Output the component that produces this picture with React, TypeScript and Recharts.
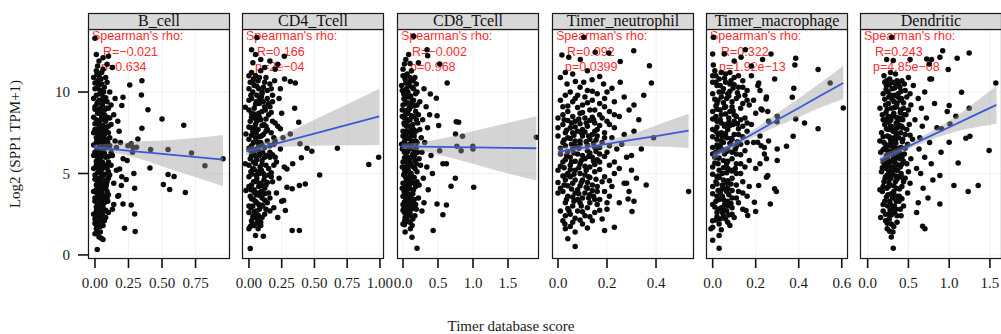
import { ComposedChart, Scatter, Line, Area, XAxis, YAxis, CartesianGrid } from 'recharts';

// panel titles and the Spearman labels printed in each panel
const panelNames = ['B_cell', 'CD4_Tcell', 'CD8_Tcell', 'Timer_neutrophil', 'Timer_macrophage', 'Dendritic'];
const rhoLabels = ['R=\u22120.021', 'R=0.166', 'R=\u22120.002', 'R=0.092', 'R=0.322', 'R=0.243'];
const pLabels = ['p=0.634', 'p=2e\u221204', 'p=0.968', 'p=0.0399', 'p=1.92e\u221213', 'p=4.85e\u221208'];

// x axis ticks per panel
const xTicks = [
    [0, 0.25, 0.5, 0.75],
    [0, 0.25, 0.5, 0.75, 1.0],
    [0, 0.5, 1.0, 1.5],
    [0, 0.2, 0.4],
    [0, 0.2, 0.4, 0.6],
    [0, 0.5, 1.0, 1.5],
];
const xDecimals = [2, 2, 1, 1, 1, 1];
const xDomains: [number, number][] = [
    [-0.052, 1.007],
    [-0.053, 1.031],
    [-0.086, 1.943],
    [-0.0245, 0.555],
    [-0.031, 0.629],
    [-0.094, 1.648],
];
const yTicks = [0, 5, 10];
const yDomain: [number, number] = [-0.25, 13.87];

// scatter points [score, log2 expression]
const bCellPts = [
    [0.01,11.3],[0.03,11.0],[0.06,11.4],[0.02,10.7],[0.05,10.5],[0.08,10.9],[0.0,10.2],[0.04,10.1],[0.07,10.3],[0.11,10.0],
    [0.01,9.8],[0.03,9.5],[0.06,9.7],[0.09,9.4],[0.0,9.1],[0.04,9.0],[0.02,8.7],[0.07,8.9],[0.12,9.2],[0.05,8.5],
    [0.01,8.3],[0.03,8.0],[0.08,8.2],[0.1,7.9],[0.0,7.7],[0.05,7.6],[0.02,7.3],[0.07,7.4],[0.04,7.1],[0.11,7.2],
    [0.01,6.9],[0.06,6.8],[0.03,6.5],[0.09,6.6],[0.0,6.3],[0.05,6.2],[0.08,6.0],[0.02,5.9],[0.12,6.3],[0.04,5.7],
    [0.01,5.5],[0.07,5.4],[0.03,5.2],[0.1,5.1],[0.0,4.9],[0.05,4.8],[0.02,4.5],[0.08,4.6],[0.04,4.3],[0.06,4.1],
    [0.01,4.0],[0.03,3.7],[0.09,3.9],[0.0,3.5],[0.05,3.4],[0.02,3.1],[0.07,3.2],[0.04,2.9],[0.01,2.7],[0.06,2.6],
    [0.03,2.4],[0.0,2.2],[0.05,2.1],[0.02,1.9],[0.08,2.3],[0.01,1.6],[0.04,1.4],[0.03,1.1],[0.06,1.8],[0.0,1.3],
    [0.015,11.1],[0.045,10.8],[0.025,10.4],[0.065,10.0],[0.035,9.9],[0.015,9.3],[0.055,9.2],[0.085,9.0],[0.025,8.9],[0.045,8.7],
    [0.065,8.4],[0.015,8.1],[0.035,7.9],[0.055,7.8],[0.025,7.5],[0.085,7.6],[0.015,7.0],[0.045,7.3],[0.065,7.0],[0.035,6.7],
    [0.095,6.9],[0.015,6.5],[0.045,6.4],[0.025,6.1],[0.065,6.4],[0.035,5.8],[0.015,5.6],[0.055,5.7],[0.085,5.5],[0.025,5.3],
    [0.045,5.0],[0.015,4.7],[0.065,4.9],[0.035,4.6],[0.025,4.2],[0.085,4.3],[0.045,4.0],[0.015,3.8],[0.055,3.7],[0.035,3.4],
    [0.065,3.5],[0.025,3.0],[0.015,2.6],[0.045,2.8],[0.035,2.3],[0.095,3.3],[0.055,2.5],[0.025,2.0],
    [-0.01,10.9],[0.0,10.55],[0.02,10.25],[0.05,9.95],[0.08,9.65],[-0.01,9.6],[0.02,9.35],[0.06,9.45],[0.0,8.95],[0.03,8.75],
    [0.07,8.6],[-0.01,8.45],[0.04,8.25],[0.09,8.45],[0.0,8.05],[0.06,7.95],[0.02,7.75],[0.08,7.8],[-0.01,7.5],[0.04,7.45],
    [0.1,7.5],[0.01,7.2],[0.06,7.15],[0.03,6.95],[0.08,6.75],[-0.01,6.75],[0.05,6.6],[0.02,6.35],[0.07,6.25],[-0.01,6.1],
    [0.04,6.0],[0.1,6.05],[0.01,5.75],[0.06,5.55],[0.03,5.45],[0.09,5.3],[-0.01,5.3],[0.05,5.25],[0.02,5.05],[0.07,4.95],
    [0.0,4.65],[0.04,4.55],[0.1,4.7],[0.06,4.35],[0.01,4.3],[0.03,4.05],[0.08,4.1],[-0.01,3.9],[0.05,3.85],[0.02,3.55],
    [0.07,3.6],[0.0,3.3],[0.04,3.15],[0.09,3.5],[0.06,2.95],[0.01,2.95],[0.03,2.7],[0.08,2.75],[-0.01,2.5],[0.05,2.6],
    [0.02,2.35],[0.07,2.1],[0.0,1.95],[0.04,1.75],[0.01,1.85],[0.06,2.3],
    [0.09,10.6],[0.1,9.0],[0.11,8.4],[0.09,7.1],[0.11,6.7],[0.1,5.7],[0.11,4.9],[0.09,4.5],[0.1,3.7],[0.12,8.0],
    [0.12,5.5],[0.1,2.6],
    [0.01,12.3],[0.03,11.9],[0.06,12.1],[0.02,11.6],[0.09,11.7],[0.05,11.2],[0.13,11.5],[0.0,13.3],[0.1,12.2],
    [0.017,0.33],[0.047,1.03],[0.022,1.4],[0.06,0.95],
    [0.14,8.6],[0.15,7.0],[0.13,6.1],[0.16,5.2],[0.14,4.4],[0.17,3.6],[0.13,2.8],[0.15,9.6],[0.18,7.6],[0.16,6.6],
    [0.2,4.8],[0.14,3.1],[0.19,6.9],[0.17,8.2],[0.21,5.9],
    [0.259,10.43],[0.35,10.7],[0.346,9.82],[0.395,8.92],[0.5,8.35],[0.662,7.96],[0.35,7.78],[0.415,6.47],[0.545,6.47],[0.72,6.26],
    [0.955,5.9],[0.82,5.47],[0.41,5.34],[0.545,4.93],[0.59,4.81],[0.51,4.32],[0.557,4.01],[0.674,3.83],[0.29,5.0],[0.296,4.1],
    [0.27,3.07],[0.296,2.52],[0.22,1.64],[0.3,1.44],[0.233,4.63],[0.209,3.13],[0.2,9.17],[0.209,9.68],[0.32,7.12],[0.283,6.6],
    [0.246,6.7],[0.24,5.79],[0.184,5.28],[0.197,4.26],[0.177,3.65],[0.27,6.82],[0.31,6.61],[0.28,6.3],
];

const cd4Pts = [
    [0.06,13.35],[0.02,12.6],[0.05,12.3],[0.09,12.0],[0.27,12.2],[0.22,11.7],[0.16,11.9],[0.2,11.4],[0.03,11.8],[0.12,11.5],
    [0.02,11.2],[0.05,11.0],[0.09,11.3],[0.13,10.9],[0.01,10.6],[0.04,10.4],[0.07,10.7],[0.11,10.3],[0.16,10.5],[0.03,10.0],
    [0.06,9.8],[0.1,10.0],[0.14,9.6],[0.0,9.5],[0.08,9.3],[0.12,9.1],[0.04,9.0],[0.18,9.4],[0.02,8.7],[0.06,8.5],
    [0.1,8.8],[0.15,8.6],[0.01,8.2],[0.05,8.0],[0.09,8.3],[0.13,7.9],[0.2,8.1],[0.03,7.6],[0.07,7.7],[0.11,7.4],
    [0.17,7.5],[0.0,7.1],[0.05,7.2],[0.09,6.9],[0.14,7.0],[0.02,6.7],[0.06,6.5],[0.12,6.6],[0.19,6.8],[0.04,6.2],
    [0.08,6.1],[0.16,6.3],[0.01,5.9],[0.1,5.8],[0.05,5.6],[0.13,5.5],[0.03,5.3],[0.07,5.1],[0.21,5.7],[0.11,5.0],
    [0.0,4.8],[0.06,4.7],[0.15,4.9],[0.09,4.4],[0.02,4.3],[0.04,4.0],[0.12,4.1],[0.18,4.5],[0.07,3.8],[0.01,3.6],
    [0.1,3.5],[0.05,3.3],[0.14,3.2],[0.03,3.0],[0.08,2.8],[0.0,2.6],[0.12,2.5],[0.05,2.3],[0.02,2.1],[0.09,2.0],
    [0.04,1.8],[0.16,2.7],[0.07,1.6],
    [0.035,10.8],[0.075,10.2],[0.015,9.8],[0.055,9.4],[0.095,9.7],[0.125,8.9],[0.035,8.4],[0.075,8.7],[0.115,8.0],[0.015,7.8],
    [0.055,7.5],[0.095,7.3],[0.035,6.9],[0.075,6.7],[0.105,6.3],[0.015,6.4],[0.055,6.0],[0.135,6.1],[0.035,5.7],[0.085,5.4],
    [0.015,5.1],[0.055,4.9],[0.095,5.2],[0.035,4.5],[0.075,4.2],[0.115,4.6],[0.015,4.0],[0.055,3.7],[0.095,3.9],[0.035,3.4],
    [0.075,3.1],[0.015,2.9],[0.055,2.7],[0.105,3.0],[0.035,2.4],[0.025,1.9],[0.065,2.2],
    [0.0,11.0],[0.03,10.6],[0.08,10.9],[0.12,10.6],[0.0,10.2],[0.06,10.35],[0.1,9.9],[0.14,10.1],[0.02,9.6],[0.05,9.25],
    [0.08,9.55],[0.11,9.4],[0.16,9.1],[0.0,8.9],[0.04,8.65],[0.08,8.45],[0.13,8.35],[0.17,8.75],[0.02,8.45],[0.06,8.2],
    [0.1,7.95],[0.0,7.85],[0.04,7.8],[0.08,7.25],[0.13,7.6],[0.19,7.2],[0.02,7.35],[0.06,6.95],[0.1,6.75],[0.16,6.7],
    [0.0,6.55],[0.04,6.45],[0.08,6.35],[0.12,6.0],[0.18,6.15],[0.02,6.1],[0.06,5.85],[0.1,5.55],[0.15,5.3],[0.0,5.5],
    [0.04,5.25],[0.08,5.0],[0.12,4.85],[0.17,5.05],[0.02,4.95],[0.06,4.5],[0.1,4.25],[0.14,4.45],[0.0,4.2],[0.04,3.85],
    [0.08,3.65],[0.12,3.75],[0.16,3.5],[0.02,3.45],[0.06,3.2],[0.1,3.05],[0.13,2.8],[0.0,3.0],[0.04,2.65],[0.07,2.45],
    [0.1,2.3],[0.03,2.35],[0.06,1.95],[0.01,1.75],[0.09,1.8],
    [0.17,10.2],[0.15,9.3],[0.18,8.2],[0.14,7.7],[0.16,6.0],[0.17,4.8],[0.13,4.3],[0.15,3.8],[0.12,3.35],[0.19,5.5],
    [0.18,9.8],[0.2,7.0],
    [0.01,0.4],[0.05,1.2],[0.11,1.15],[0.0,1.6],
    [0.23,9.6],[0.25,8.7],[0.22,7.9],[0.26,7.2],[0.24,6.5],[0.2,6.0],[0.27,5.4],[0.23,4.7],[0.21,3.8],[0.25,3.3],
    [0.19,2.9],[0.22,2.3],[0.24,10.2],
    [0.99,6.0],[0.915,5.55],[0.675,6.55],[0.48,6.37],[0.443,6.55],[0.4,5.96],[0.54,4.91],[0.43,4.36],[0.385,4.26],[0.33,1.5],
    [0.385,1.5],[0.354,10.56],[0.316,10.64],[0.349,9.0],[0.38,8.14],[0.334,5.59],[0.29,5.28],[0.29,4.16],[0.33,4.06],[0.278,2.72],
    [0.265,3.34],[0.272,10.8],[0.196,10.7],[0.316,7.43],[0.39,6.82],[0.24,7.74],[-0.028,9.06],[-0.023,7.43],[-0.028,5.59],[-0.023,3.95],
];

const cd8Pts = [
    [0.0,11.4],[0.06,11.1],[0.12,11.3],[0.03,10.8],[0.09,10.6],[0.17,10.9],[-0.02,10.4],[0.05,10.2],[0.13,10.3],[0.2,10.0],
    [0.01,9.9],[0.08,9.7],[0.15,9.5],[0.04,9.3],[0.11,9.1],[0.24,9.4],[-0.01,8.9],[0.07,8.7],[0.18,8.8],[0.02,8.4],
    [0.1,8.3],[0.14,8.0],[0.05,7.9],[0.21,8.1],[0.0,7.6],[0.08,7.5],[0.16,7.3],[0.03,7.1],[0.12,7.0],[0.26,7.2],
    [-0.02,6.8],[0.06,6.7],[0.1,6.5],[0.19,6.6],[0.02,6.3],[0.14,6.2],[0.07,6.0],[0.23,5.9],[0.0,5.7],[0.11,5.6],
    [0.04,5.4],[0.17,5.3],[0.08,5.1],[0.01,4.9],[0.13,4.8],[0.05,4.6],[0.2,4.5],[0.09,4.3],[-0.01,4.1],[0.15,4.0],
    [0.03,3.8],[0.11,3.6],[0.06,3.4],[0.22,3.5],[0.0,3.1],[0.14,3.0],[0.08,2.8],[0.02,2.6],[0.17,2.4],[0.05,2.2],
    [0.1,2.0],[0.0,1.9],[0.13,1.8],
    [0.025,11.0],[0.085,10.4],[0.145,10.7],[0.015,9.6],[0.055,9.9],[0.125,9.2],[0.035,8.6],[0.085,9.0],[0.155,8.5],[0.015,8.1],
    [0.065,8.2],[0.115,7.7],[0.035,7.4],[0.095,7.2],[0.185,7.6],[0.015,6.9],[0.055,6.4],[0.125,6.8],[0.035,6.0],[0.085,5.8],
    [0.165,6.1],[0.025,5.2],[0.065,5.5],[0.115,5.0],[0.035,4.4],[0.075,4.7],[0.155,4.4],[0.015,3.9],[0.055,4.0],[0.095,3.7],
    [0.035,3.3],[0.075,3.1],[0.125,3.3],[0.015,2.9],[0.055,2.7],[0.095,2.4],[0.025,2.1],
    [0.0,11.0],[0.04,10.55],[0.1,10.9],[0.15,10.2],[-0.01,10.1],[0.07,10.0],[0.11,9.75],[0.18,9.9],[0.02,9.55],[0.06,9.35],
    [0.13,9.45],[0.0,9.2],[0.09,8.95],[0.16,9.15],[0.04,8.85],[0.12,8.55],[-0.01,8.5],[0.07,8.3],[0.19,8.3],[0.02,8.0],
    [0.1,7.9],[0.15,7.7],[0.05,7.6],[0.0,7.3],[0.08,7.15],[0.13,7.4],[0.2,6.9],[0.03,6.85],[0.1,6.8],[-0.01,6.5],
    [0.06,6.3],[0.16,6.45],[0.12,6.0],[0.02,5.95],[0.09,5.7],[0.19,5.6],[0.05,5.7],[-0.01,5.4],[0.13,5.45],[0.07,5.25],
    [0.02,5.0],[0.1,4.95],[0.16,4.75],[0.04,4.75],[0.12,4.5],[0.0,4.4],[0.07,4.45],[0.18,4.2],[0.03,4.15],[0.1,4.05],
    [0.14,3.75],[0.0,3.6],[0.07,3.7],[0.04,3.5],[0.11,3.35],[0.18,3.1],[0.02,3.25],[0.08,3.05],[0.12,2.8],[0.0,2.75],
    [0.05,2.5],[0.1,2.55],[0.14,2.2],[0.03,2.3],[0.07,2.05],[0.02,1.85],
    [0.19,10.5],[0.2,9.2],[0.22,8.6],[0.18,7.0],[0.21,6.3],[0.17,5.8],[0.2,5.1],[0.23,4.3],[0.16,3.4],[0.19,2.8],
    [0.24,7.7],[0.25,5.5],
    [0.3,10.2],[0.33,9.1],[0.28,8.3],[0.35,7.8],[0.31,6.9],[0.27,6.3],[0.34,5.4],[0.29,4.7],[0.36,4.0],[0.3,3.2],
    [0.27,2.7],[0.4,6.1],[0.38,8.6],[0.42,5.0],
    [0.152,13.42],[0.343,12.6],[0.352,12.23],[0.019,11.72],[0.08,12.3],[0.04,12.0],[0.22,11.8],[0.1,11.75],
    [0.2,0.41],[0.105,1.6],[0.128,1.09],[0.03,1.4],
    [1.905,7.22],[0.997,6.67],[1.0,6.5],[1.01,4.16],[0.83,6.4],[0.77,6.67],[0.85,7.28],[0.75,7.43],[0.76,8.18],[0.795,8.14],
    [0.63,10.56],[0.524,11.72],[0.524,6.4],[0.62,5.59],[0.57,5.59],[0.747,4.71],[0.686,4.22],[0.62,3.07],[0.57,2.46],[0.43,1.5],
    [0.486,3.13],[0.486,8.55],[0.51,7.94],[0.476,9.62],[0.39,9.88],
];

const neutroPts = [
    [0.105,13.36],[0.016,12.28],[0.044,12.13],[0.091,11.99],[0.152,12.44],[0.207,12.4],[0.254,11.87],[0.309,12.54],[0.373,11.62],[0.03,11.2],
    [0.381,10.56],[0.139,10.76],[0.186,10.5],[0.22,10.23],[0.254,10.6],[0.037,10.5],[0.071,10.64],[0.105,10.6],
    [0.02,9.1],[0.05,10.0],[0.08,9.8],[0.12,10.1],[0.16,9.9],[0.19,9.6],[0.23,9.4],[0.27,9.7],[0.31,9.2],[0.35,9.8],
    [0.06,9.4],[0.1,9.2],[0.14,9.5],[0.04,8.8],[0.09,8.7],[0.13,8.9],[0.17,8.6],[0.21,8.8],[0.25,8.5],[0.29,8.9],
    [0.0,8.4],[0.33,8.3],[0.07,8.2],[0.11,8.4],[0.15,8.1],[0.2,8.2],
    [0.02,8.0],[0.05,7.8],[0.08,7.6],[0.12,7.9],[0.16,7.7],[0.19,7.5],[0.23,7.8],[0.27,7.4],[0.31,7.6],[0.0,7.3],
    [0.04,7.2],[0.07,7.0],[0.1,7.3],[0.13,7.1],[0.18,6.9],[0.22,7.2],[0.26,6.8],[0.03,6.7],[0.06,6.5],[0.09,6.8],
    [0.12,6.4],[0.15,6.6],[0.2,6.3],[0.24,6.5],[0.3,6.1],[0.01,6.2],[0.05,6.0],[0.08,6.2],[0.11,5.9],[0.14,6.0],
    [0.17,6.2],[0.34,6.5],[0.28,6.0],[0.06,7.5],[0.1,7.7],[0.14,7.4],[0.02,6.9],[0.16,7.3],[0.21,6.7],[0.39,7.2],
    [0.02,5.7],[0.05,5.5],[0.09,5.6],[0.13,5.4],[0.17,5.7],[0.21,5.5],[0.25,5.3],[0.0,5.2],[0.04,5.0],[0.07,5.2],
    [0.11,4.9],[0.15,5.1],[0.19,4.8],[0.23,5.0],[0.3,5.2],[0.03,4.6],[0.06,4.4],[0.1,4.6],[0.14,4.3],[0.18,4.5],
    [0.22,4.2],[0.27,4.4],[0.32,4.7],[0.01,4.1],[0.08,4.0],[0.12,4.1],[0.16,3.9],[0.05,4.8],[0.36,4.3],
    [0.0,3.8],[0.04,3.6],[0.07,3.8],[0.1,3.5],[0.13,3.7],[0.17,3.4],[0.21,3.6],[0.25,3.2],[0.03,3.2],[0.06,3.0],
    [0.09,3.2],[0.12,2.9],[0.16,3.1],[0.2,2.8],[0.01,2.7],[0.05,2.5],[0.08,2.7],[0.11,2.4],[0.15,2.6],[0.18,2.2],
    [0.02,2.1],[0.06,2.0],[0.1,1.9],[0.14,2.1],[0.03,1.6],[0.07,1.4],[0.29,3.9],[0.31,3.3],
    [0.01,10.9],[0.06,11.1],[0.12,11.3],[0.17,10.95],[0.09,10.3],[0.03,9.8],[0.14,10.05],[0.2,10.0],[0.07,9.6],[0.11,9.7],
    [0.17,9.3],[0.01,9.5],[0.04,9.15],[0.08,9.05],[0.12,9.35],[0.15,8.9],[0.19,9.1],[0.02,8.6],[0.06,8.5],[0.1,8.75],
    [0.14,8.45],[0.18,8.4],[0.23,8.6],[0.04,8.25],[0.09,8.05],[0.13,8.25],[0.17,7.95],[0.21,8.0],[0.0,7.8],[0.07,7.85],
    [0.11,7.55],[0.15,7.6],[0.19,7.2],[0.03,7.5],[0.05,7.15],[0.09,7.0],[0.12,6.75],[0.17,6.6],[0.01,6.55],[0.04,6.35],
    [0.07,6.7],[0.1,6.1],[0.13,6.25],[0.16,5.85],[0.19,6.05],[0.03,5.85],[0.07,5.75],[0.11,5.45],[0.15,5.55],[0.23,5.7],
    [0.01,5.45],[0.05,5.25],[0.09,5.0],[0.13,4.75],[0.17,5.25],[0.21,4.55],[0.02,4.85],[0.07,4.6],[0.12,4.45],[0.16,4.2],
    [0.0,4.45],[0.04,4.25],[0.09,4.25],[0.14,3.95],[0.19,3.9],[0.02,3.9],[0.06,3.55],[0.11,3.8],[0.15,3.4],[0.08,3.4],
    [0.13,3.2],[0.04,2.85],[0.1,2.65],[0.17,2.75],[0.07,2.25],[0.13,2.35],[0.03,2.4],[0.09,2.15],[0.05,1.75],[0.12,1.65],
    [0.025,8.3],[0.055,8.1],[0.085,8.35],[0.115,8.1],[0.145,8.3],[0.035,7.65],[0.065,7.35],[0.095,7.5],[0.125,7.3],[0.155,7.05],
    [0.025,7.05],[0.055,6.8],[0.085,6.55],[0.115,6.95],[0.145,6.85],[0.035,6.1],[0.065,6.25],[0.095,5.8],[0.125,6.05],[0.155,6.35],
    [0.025,5.35],[0.055,5.7],[0.085,5.35],[0.115,5.2],[0.145,5.75],[0.035,4.9],[0.065,4.95],[0.095,4.45],[0.125,4.8],[0.155,4.65],
    [0.025,4.3],[0.055,4.05],[0.085,3.75],[0.115,4.15],[0.145,3.6],[0.035,3.4],[0.065,3.3],[0.095,3.0],[0.125,3.5],[0.045,2.7],
    [0.04,1.0],[0.07,0.52],[0.028,1.9],
    [0.533,3.89],[0.19,1.5],[0.23,1.7],[0.286,3.44],[0.28,4.4],[0.2,3.2],[0.302,2.66],
];

const macroPts = [
    [0.003,13.36],[0.0,12.34],[0.054,12.34],[0.132,12.13],[0.152,12.6],[0.271,12.34],[0.232,11.99],[0.003,11.66],[0.1,11.9],[0.18,11.6],
    [0.0,11.0],[0.03,10.8],[0.06,11.1],[0.1,10.9],[0.14,10.7],[0.18,11.0],[0.02,10.4],[0.05,10.2],[0.08,10.5],[0.12,10.3],
    [0.16,10.1],[0.21,10.4],[0.0,9.9],[0.04,9.7],[0.07,9.9],[0.11,9.6],[0.15,9.8],[0.19,9.5],[0.25,9.7],[0.02,9.3],
    [0.06,9.1],[0.09,9.4],[0.13,9.0],[0.17,9.2],[0.23,8.9],[0.0,8.8],[0.04,8.6],[0.08,8.8],[0.11,8.5],[0.15,8.4],
    [0.2,8.7],[0.02,8.2],[0.06,8.0],[0.1,8.2],[0.14,7.9],[0.18,8.0],[0.26,8.2],[0.0,7.7],[0.04,7.5],[0.07,7.7],
    [0.12,7.4],[0.16,7.6],[0.22,7.3],[0.02,7.1],[0.05,6.9],[0.09,7.1],[0.13,6.8],[0.19,6.9],[0.0,6.6],[0.03,6.4],
    [0.07,6.5],[0.11,6.2],[0.15,6.4],[0.24,6.6],[0.01,6.0],[0.05,5.8],[0.09,5.9],[0.13,5.6],[0.17,5.8],[0.0,5.4],
    [0.03,5.2],[0.07,5.3],[0.11,5.0],[0.2,5.3],[0.02,4.8],[0.05,4.6],[0.09,4.7],[0.14,4.5],[0.0,4.2],[0.04,4.0],
    [0.07,4.1],[0.12,3.9],[0.17,4.2],[0.02,3.6],[0.05,3.4],[0.09,3.5],[0.0,3.1],[0.04,2.9],[0.07,3.0],[0.12,3.2],
    [0.02,2.6],[0.05,2.4],[0.09,2.5],[0.0,2.1],[0.03,1.9],[0.07,2.0],[0.14,2.8],[0.16,3.6],
    [0.015,10.6],[0.045,10.0],[0.085,10.7],[0.025,9.5],[0.065,9.6],[0.035,8.9],[0.075,8.4],[0.015,8.5],[0.055,7.9],[0.095,8.0],
    [0.025,7.4],[0.065,7.2],[0.035,6.7],[0.085,6.8],[0.015,6.3],[0.055,6.2],[0.025,5.6],[0.065,5.6],[0.045,5.0],[0.085,5.2],
    [0.015,4.5],[0.065,4.4],[0.035,3.8],[0.075,3.7],[0.015,3.3],[0.055,3.1],[0.025,2.8],[0.065,2.7],[0.035,2.2],
    [0.01,11.3],[0.04,11.2],[0.08,11.2],[0.12,11.0],[0.0,10.6],[0.06,10.6],[0.1,10.45],[0.14,10.3],[0.03,10.0],[0.08,10.05],
    [0.12,9.75],[0.16,9.5],[0.01,9.55],[0.05,9.35],[0.09,9.1],[0.14,9.3],[0.02,8.95],[0.06,8.65],[0.1,8.6],[0.13,8.3],
    [0.0,8.35],[0.04,8.1],[0.08,7.95],[0.12,7.75],[0.16,8.1],[0.02,7.85],[0.06,7.45],[0.1,7.4],[0.14,7.25],[0.0,7.25],
    [0.04,7.0],[0.08,6.85],[0.11,6.65],[0.16,6.9],[0.02,6.75],[0.05,6.45],[0.09,6.3],[0.13,6.15],[0.0,6.2],[0.03,5.95],
    [0.07,5.75],[0.11,5.6],[0.15,5.4],[0.01,5.65],[0.05,5.35],[0.09,5.15],[0.13,5.0],[0.0,4.95],[0.03,4.75],[0.07,4.55],
    [0.11,4.3],[0.02,4.35],[0.05,4.1],[0.09,3.95],[0.14,3.8],[0.0,3.75],[0.03,3.4],[0.07,3.3],[0.11,3.5],[0.01,2.95],
    [0.05,2.8],[0.09,2.9],[0.02,2.35],[0.06,2.2],[0.1,2.3],[0.0,1.7],[0.04,1.55],[0.08,1.8],
    [0.015,11.0],[0.055,10.85],[0.095,10.25],[0.035,10.4],[0.075,9.75],[0.115,9.95],[0.015,9.15],[0.055,9.05],[0.095,8.85],[0.035,8.3],
    [0.075,8.15],[0.115,8.05],[0.015,7.6],[0.045,7.25],[0.085,7.15],[0.115,6.95],[0.025,6.55],[0.065,6.35],[0.105,6.5],[0.025,5.95],
    [0.065,5.05],[0.105,5.3],[0.025,4.85],[0.045,4.3],[0.085,4.35],[0.025,3.95],[0.065,3.9],[0.045,3.6],[0.085,3.15],[0.045,2.6],
    [0.075,2.45],[0.015,2.15],
    [0.214,10.56],[0.22,10.09],[0.225,8.96],[0.248,9.57],[0.256,8.8],[0.209,6.92],[0.225,6.71],[0.24,6.2],[0.25,5.9],[0.256,4.87],
    [0.22,5.59],[0.214,4.26],[0.2,2.66],[0.194,3.24],[0.155,2.72],[0.163,2.42],
    [0.3,8.51],[0.299,8.18],[0.288,10.8],[0.3,6.51],[0.3,5.79],[0.288,4.06],[0.296,3.89],[0.268,3.13],[0.25,4.77],[0.26,7.0],
    [0.607,9.02],[0.546,10.56],[0.49,11.38],[0.49,7.74],[0.427,8.1],[0.386,8.35],[0.374,7.28],[0.343,6.67],[0.386,12.07],[0.382,11.66],
    [0.377,10.23],[0.37,9.68],
    [0.03,0.41],[0.03,1.19],[-0.008,1.6],[0.0,0.9],
];

const dendriticPts = [
    [0.294,13.36],[0.233,12.0],[0.314,11.93],[0.52,12.0],[0.724,12.03],[0.151,9.0],[0.764,10.8],
    [0.2,11.0],[0.27,10.8],[0.34,11.1],[0.42,10.7],[0.5,10.9],[0.23,10.4],[0.3,10.2],[0.38,10.5],[0.46,10.1],[0.56,10.4],
    [0.19,9.9],[0.26,9.7],[0.33,9.8],[0.4,9.5],[0.48,9.7],[0.62,9.6],[0.22,9.2],[0.29,9.0],[0.36,9.3],[0.44,9.0],
    [0.53,9.2],[0.18,8.6],[0.25,8.5],[0.32,8.7],[0.39,8.4],[0.47,8.6],[0.58,8.3],[0.21,8.0],[0.28,7.9],[0.35,8.1],
    [0.43,7.8],[0.51,8.0],[0.67,7.9],[0.17,7.5],[0.24,7.3],[0.31,7.6],[0.38,7.2],[0.46,7.4],[0.55,7.1],[0.2,6.9],
    [0.27,6.7],[0.34,7.0],[0.41,6.6],[0.49,6.8],[0.63,6.5],[0.16,6.3],[0.23,6.1],[0.3,6.4],[0.37,6.0],[0.45,6.2],
    [0.53,5.9],[0.19,5.7],[0.26,5.5],[0.33,5.8],[0.4,5.4],[0.48,5.6],[0.6,5.3],[0.17,5.1],[0.24,4.9],[0.31,5.1],
    [0.38,4.8],[0.46,4.7],[0.2,4.5],[0.27,4.3],[0.34,4.5],[0.42,4.2],[0.52,4.4],[0.18,3.9],[0.25,3.7],[0.32,3.9],
    [0.39,3.6],[0.49,3.8],[0.21,3.3],[0.28,3.1],[0.35,3.3],[0.44,3.0],[0.19,2.7],[0.26,2.5],[0.33,2.6],[0.41,2.4],
    [0.22,2.1],[0.29,1.9],[0.36,2.0],[0.24,1.6],[0.31,1.4],
    [0.235,10.7],[0.305,10.6],[0.375,9.9],[0.255,9.3],[0.325,9.4],[0.405,8.9],[0.215,8.3],[0.285,8.3],[0.365,7.8],[0.255,7.7],
    [0.325,7.2],[0.405,7.5],[0.215,6.6],[0.285,6.9],[0.355,6.5],[0.245,5.9],[0.315,6.0],[0.395,5.9],[0.225,5.3],[0.295,5.4],
    [0.365,5.2],[0.215,4.7],[0.285,4.7],[0.355,4.1],[0.235,4.1],[0.305,3.5],[0.245,3.0],[0.305,2.8],[0.265,2.2],
    [0.21,10.6],[0.28,11.2],[0.36,10.7],[0.45,10.5],[0.25,10.0],[0.33,10.25],[0.41,10.05],[0.52,9.9],[0.21,9.55],[0.3,9.55],
    [0.37,9.7],[0.44,9.35],[0.24,8.95],[0.33,9.05],[0.4,8.75],[0.5,8.9],[0.19,8.3],[0.27,8.2],[0.35,8.45],[0.43,8.3],
    [0.23,7.75],[0.31,7.85],[0.39,7.95],[0.48,7.7],[0.19,7.25],[0.28,7.1],[0.35,7.45],[0.43,7.1],[0.52,7.35],[0.23,6.75],
    [0.31,6.85],[0.38,6.55],[0.46,6.55],[0.19,6.45],[0.27,6.2],[0.34,6.2],[0.42,6.0],[0.21,5.85],[0.29,5.75],[0.36,5.55],
    [0.44,5.75],[0.18,5.35],[0.26,5.15],[0.33,5.3],[0.41,5.0],[0.5,5.1],[0.22,4.8],[0.29,4.95],[0.36,4.65],[0.44,4.5],
    [0.19,4.2],[0.26,4.45],[0.32,4.25],[0.39,4.05],[0.23,3.55],[0.29,3.75],[0.36,3.6],[0.42,3.45],[0.19,3.1],[0.27,3.3],
    [0.33,3.0],[0.4,2.8],[0.22,2.5],[0.29,2.45],[0.36,2.4],[0.24,1.95],[0.32,1.75],[0.27,1.45],
    [0.225,10.15],[0.265,10.45],[0.345,10.5],[0.395,10.3],[0.285,9.8],[0.355,9.1],[0.415,9.6],[0.225,8.75],[0.305,8.55],[0.375,8.25],
    [0.445,8.6],[0.245,8.15],[0.335,7.65],[0.415,7.9],[0.265,7.25],[0.345,6.85],[0.425,6.95],[0.245,6.4],[0.325,6.6],[0.395,6.25],
    [0.255,5.65],[0.335,5.65],[0.415,5.55],[0.265,4.75],[0.345,4.85],[0.425,4.75],[0.255,4.2],[0.325,3.65],[0.385,3.3],[0.275,2.75],
    [0.345,2.8],[0.205,5.6],
    [0.7,10.0],[0.66,9.0],[0.72,8.4],[0.64,7.2],[0.76,6.9],[0.7,6.0],[0.65,5.0],[0.78,5.6],[0.68,4.1],[0.74,3.5],
    [0.62,3.2],[0.8,4.6],[0.85,7.8],[0.9,6.3],[0.82,9.3],[0.6,2.6],[0.15,7.0],[0.15,4.0],[0.16,2.3],[0.29,1.1],
    [1.572,10.56],[1.49,6.41],[1.356,4.26],[1.233,3.89],[1.245,9.0],[1.254,7.28],[1.205,7.16],[1.152,9.98],[1.098,12.07],[1.245,12.4],
    [1.11,5.65],[1.058,4.26],[1.082,8.51],[1.01,8.04],[1.0,9.17],[0.976,8.8],[0.988,11.38],[1.0,6.92],[0.906,7.74],[0.92,12.54],
    [0.886,12.13],[0.886,4.87],[0.886,3.13],[0.784,11.99],[0.755,11.72],[0.784,10.8],[0.703,1.6],[0.674,1.76],[0.314,0.41],
];

// fitted line and confidence band per panel: [x, fit, lower, upper]
const bCellBand = [[-0.01,6.61,6.45,6.77],[0.15,6.48,6.25,6.85],[0.3,6.36,5.98,6.95],[0.5,6.2,5.45,7.02],[0.7,6.05,4.9,7.15],[0.955,5.85,4.22,7.37]];
const cd4Band = [[-0.02,6.35,6.1,6.6],[0.1,6.6,6.38,6.85],[0.25,6.92,6.62,7.35],[0.5,7.45,6.7,8.3],[0.75,7.98,6.73,9.25],[0.995,8.51,6.75,10.2]];
const cd8Band = [[-0.02,6.67,6.5,6.84],[0.25,6.65,6.4,6.9],[0.5,6.63,6.15,7.1],[1.0,6.6,5.6,7.6],[1.5,6.57,5.0,8.1],[1.905,6.55,4.57,8.51]];
const neutroBand = [[0.0,6.33,6.05,6.6],[0.1,6.57,6.38,6.77],[0.2,6.82,6.6,7.05],[0.3,7.06,6.68,7.42],[0.4,7.3,6.65,7.95],[0.533,7.63,6.57,8.66]];
const macroBand = [[0.0,6.04,5.8,6.28],[0.1,6.79,6.6,6.98],[0.2,7.53,7.3,7.78],[0.3,8.28,7.9,8.7],[0.4,9.02,8.45,9.6],[0.5,9.77,9.05,10.55],[0.607,10.56,9.58,11.62]];
const dendriticBand = [[0.15,5.84,5.55,6.13],[0.4,6.43,6.25,6.61],[0.7,7.14,6.92,7.36],[1.0,7.84,7.45,8.23],[1.3,8.55,7.8,9.3],[1.58,9.21,8.05,10.37]];

const allPts = [bCellPts, cd4Pts, cd8Pts, neutroPts, macroPts, dendriticPts];
const allBands = [bCellBand, cd4Band, cd8Band, neutroBand, macroBand, dendriticBand];

// layout
const PANEL_LEFT = [88, 242, 397, 552, 706, 860];
const PANEL_W = 142;
const PLOT_TOP = 29;
const PLOT_H = 230;
const STRIP_TOP = 13;
const SERIF = "'Liberation Serif', 'Times New Roman', serif";
const SANS = "'Liberation Sans', Arial, sans-serif";
const RED = '#ff2a2e';

const tickStyle = { fontFamily: SERIF, fontSize: 15, fill: '#1a1a1a' };

const Dot = (props: any) => <circle cx={props.cx} cy={props.cy} r={2.75} fill="#0b0b0b" />;

function Panel({ idx }: { idx: number }) {
    const left = PANEL_LEFT[idx];
    const showY = idx === 0;
    const yw = showY ? 60 : 0;
    const pts = allPts[idx].map(([x, y]) => ({ x, y }));
    const band = allBands[idx].map(([x, fit, lo, hi]) => ({ x, y: fit, band: [lo, hi] }));

    return (
        <div style={{ position: 'absolute', left: left - 20 - yw, top: PLOT_TOP }}>
            <ComposedChart
                width={PANEL_W + 40 + yw}
                height={PLOT_H + 40}
                data={band}
                margin={{ top: 0, right: 20, bottom: 0, left: 20 }}
            >
                <CartesianGrid stroke="#efefef" strokeWidth={0.8} />
                <XAxis
                    type="number"
                    dataKey="x"
                    domain={xDomains[idx]}
                    allowDataOverflow
                    ticks={xTicks[idx]}
                    interval={0}
                    tickFormatter={(v: number) => v.toFixed(xDecimals[idx])}
                    height={40}
                    tickSize={9}
                    tickMargin={9}
                    axisLine={false}
                    tickLine={{ stroke: '#111', strokeWidth: 1.6 }}
                    tick={tickStyle}
                />
                <YAxis
                    type="number"
                    dataKey="y"
                    domain={yDomain}
                    allowDataOverflow
                    ticks={yTicks}
                    interval={0}
                    hide={!showY}
                    width={60}
                    tickSize={10}
                    tickMargin={8}
                    axisLine={false}
                    tickLine={{ stroke: '#111', strokeWidth: 1.6 }}
                    tick={tickStyle}
                />
                <Scatter data={pts} shape={Dot} isAnimationActive={false} zIndex={50} />
                <Area
                    dataKey="band"
                    type="monotone"
                    stroke="none"
                    fill="#999999"
                    fillOpacity={0.42}
                    dot={false}
                    activeDot={false}
                    isAnimationActive={false}
                />
                <Line
                    dataKey="y"
                    type="linear"
                    stroke="#3a5ad8"
                    strokeWidth={1.8}
                    dot={false}
                    activeDot={false}
                    isAnimationActive={false}
                />
            </ComposedChart>
        </div>
    );
}

export default function App() {
    return (
        <div style={{ position: 'absolute', left: 0, top: 0, width: 1001, height: 334, background: '#fff', overflow: 'hidden' }}>
            {/* Labels that sit under the points */}
            <svg width={1001} height={334} style={{ position: 'absolute', left: 0, top: 0 }}>
                {PANEL_LEFT.map((left, i) => (
                    <g key={i} fontFamily={SANS} fontSize={12.5} fill={RED}>
                        <text x={left + 4} y={39.5}>Spearman's rho:</text>
                        <text x={left + 15} y={55.5}>{rhoLabels[i]}</text>
                        <text x={left + 13} y={70.5}>{pLabels[i]}</text>
                    </g>
                ))}
                <text
                    transform="translate(15,144) rotate(-90)"
                    textAnchor="middle"
                    dominantBaseline="central"
                    fontFamily={SERIF}
                    fontSize={15}
                    fill="#1a1a1a"
                >
                    Log2 (SPP1 TPM+1)
                </text>
                <text x={511} y={331} textAnchor="middle" fontFamily={SERIF} fontSize={15} fill="#1a1a1a">
                    Timer database score
                </text>
            </svg>

            {PANEL_LEFT.map((_, i) => (
                <Panel key={i} idx={i} />
            ))}

            {/* Panel frames and strip headers */}
            <svg width={1001} height={334} style={{ position: 'absolute', left: 0, top: 0, pointerEvents: 'none' }}>
                {PANEL_LEFT.map((left, i) => (
                    <g key={i}>
                        <rect x={left + 0.5} y={PLOT_TOP + 0.5} width={PANEL_W - 1} height={PLOT_H - 1} fill="none" stroke="#1a1a1a" strokeWidth={1.2} />
                        <rect x={left + 0.5} y={STRIP_TOP + 0.5} width={PANEL_W - 1} height={PLOT_TOP - STRIP_TOP} fill="#d9d9d9" stroke="#1a1a1a" strokeWidth={1.2} />
                        <text x={left + PANEL_W / 2} y={25.5} textAnchor="middle" fontFamily={SERIF} fontSize={16} fill="#111">
                            {panelNames[i]}
                        </text>
                    </g>
                ))}
            </svg>
        </div>
    );
}
